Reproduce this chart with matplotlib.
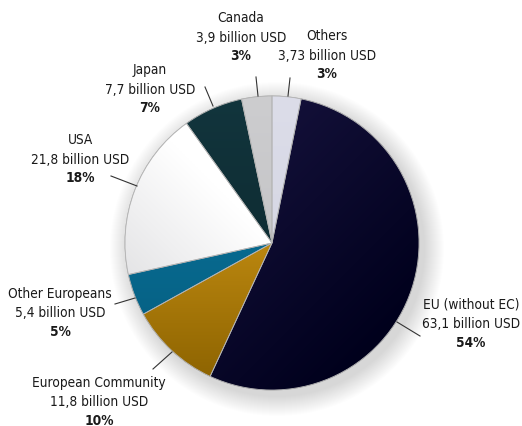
import numpy as np
import matplotlib.pyplot as plt
import matplotlib.colors as mcolors
from matplotlib.patches import Wedge

plt.rcParams['font.family'] = ['DejaVu Sans']
plt.rcParams['font.stretch'] = 'condensed'

# data, clockwise from 12 o'clock
labels = ['Others', 'EU (without EC)', 'European Community', 'Other Europeans',
          'USA', 'Japan', 'Canada']
values = [3.73, 63.1, 11.8, 5.4, 21.8, 7.7, 3.9]
value_text = ['3,73 billion USD', '63,1 billion USD', '11,8 billion USD',
              '5,4 billion USD', '21,8 billion USD', '7,7 billion USD', '3,9 billion USD']
pct_text = ['3%', '54%', '10%', '5%', '18%', '7%', '3%']

# gradient colours per slice (light end, dark end, direction in degrees)
grads = [('#dcdde9', '#d0d1df', -90),
         ('#181440', '#00001c', -45),
         ('#ecad1f', '#8a6100', -90),
         ('#0a7aa3', '#055a7c', -90),
         ('#ffffff', '#e0e0e2', -135),
         ('#12353d', '#0b2429', -90),
         ('#cdcdcf', '#bdbdc0', -90)]

H = 427
cx, cy, R = 272, H - 244, 147

fig = plt.figure(figsize=(5.22, 4.27), dpi=100)
ax = fig.add_axes([0, 0, 1, 1])

# soft shadow
for i in range(20):
    c = plt.Circle((cx + 5, cy - 6), R + 20 - i, color='#000000', alpha=0.008, lw=0, zorder=0)
    ax.add_patch(c)

wedges, _ = ax.pie(values, startangle=90, counterclock=False, center=(cx, cy), radius=R,
                   colors=[g[1] for g in grads],
                   wedgeprops=dict(edgecolor='#a8a8a8', linewidth=0.6))

# gradient fill clipped to each wedge
n = 200
xs = np.linspace(-1, 1, n)
X, Y = np.meshgrid(xs, xs[::-1])
for w, (c1, c2, ang) in zip(wedges, grads):
    a = np.deg2rad(ang)
    t = (X * np.cos(a) + Y * np.sin(a) + 1) / 2
    if c1 == '#ffffff':
        t = np.clip((t - 0.5) * 2, 0, 1)  # white slice: only shade the outer corner
    t = np.clip(t, 0, 1)
    cmap = mcolors.LinearSegmentedColormap.from_list('g', [c1, c2])
    im = ax.imshow(t, cmap=cmap, extent=(cx - R, cx + R, cy - R, cy + R),
                   origin='upper', zorder=1.5, interpolation='bilinear')
    im.set_clip_path(w)
    ax.add_patch(Wedge(w.center, w.r, w.theta1, w.theta2,
                       fill=False, edgecolor='#b4b4b4', lw=0.6, zorder=2))

# label layout (pixel coords in the image): text centre x, top line y, leader start, leader end
label_pos = [(327, 36, (290, 79), (288, 97)),
             (471, 305, (420, 337), (397, 323)),
             (99, 383, (153, 370), (172, 353)),
             (60, 294, (115, 305), (135, 299)),
             (80, 140, (111, 177), (137, 187)),
             (150, 70, (205, 88), (213, 107)),
             (241, 18, (256, 78), (258, 97))]

for lab, val, pct, (tx, ty, p0, p1) in zip(labels, value_text, pct_text, label_pos):
    ax.text(tx, H - ty, lab, ha='center', va='center', fontsize=9.8, color='#1a1a1a')
    ax.text(tx, H - ty - 19.5, val, ha='center', va='center', fontsize=9.8, color='#1a1a1a')
    ax.text(tx, H - ty - 38, pct, ha='center', va='center', fontsize=9.8,
            fontweight='bold', color='#1a1a1a')
    ax.plot([p0[0], p1[0]], [H - p0[1], H - p1[1]], color='#333333', lw=0.8, zorder=3)

ax.set_xlim(0, 522)
ax.set_ylim(0, H)
ax.set_aspect('equal')
ax.axis('off')

fig.savefig('out.png', dpi=100, facecolor='white')
